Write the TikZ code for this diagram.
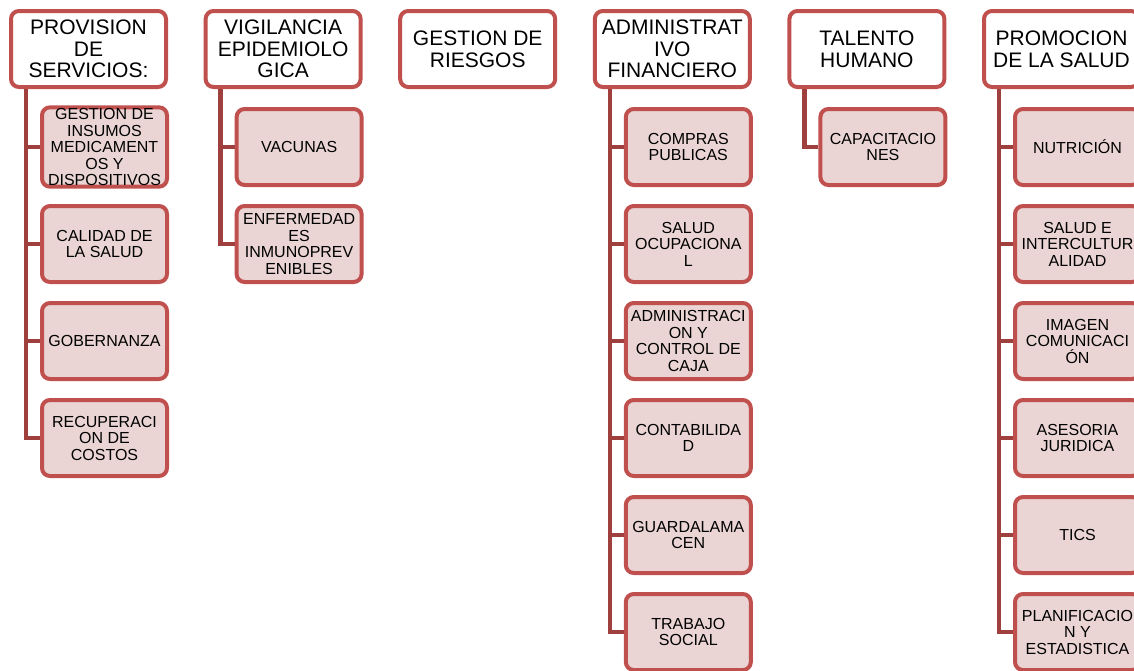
\documentclass[tikz,border=0pt]{standalone}
\usepackage{fontspec}
\setmainfont{Liberation Sans}
\definecolor{rahmen}{RGB}{192,80,77}
\definecolor{fuellung}{RGB}{234,213,212}
\definecolor{linie}{RGB}{160,64,62}
\tikzset{
	bereich/.style={draw=rahmen, line width=4pt, rounded corners=8pt, fill=white,
		minimum width=155pt, minimum height=76pt, inner sep=1pt, align=center,
		font=\fontsize{21}{21.7}\selectfont},
	einheit/.style={bereich, fill=fuellung, minimum width=125pt,
		font=\fontsize{16}{16.5}\selectfont},
	ast/.style={draw=linie, line width=4.5pt}
}
\begin{document}
\begin{tikzpicture}[x=1pt, y=-1pt]
	\path[use as bounding box, clip] (0,0) rectangle (1134,670);
	% Bereiche
	\node[bereich] (prov) at (88.5,49) {PROVISION\\DE\\SERVICIOS:};
	\node[bereich] (vig) at (283.1,49) {VIGILANCIA\\EPIDEMIOLO\\GICA};
	\node[bereich] (ries) at (477.7,49) {GESTION DE\\RIESGOS};
	\node[bereich] (adm) at (672.3,49) {ADMINISTRAT\\IVO\\FINANCIERO};
	\node[bereich] (tal) at (866.9,49) {TALENTO\\HUMANO};
	\node[bereich] (prom) at (1061.5,49) {PROMOCION\\DE LA SALUD};
	% Provision de servicios
	\node[einheit] (prov1) at (104.5,147) {GESTION DE\\INSUMOS\\MEDICAMENT\\OS Y\\DISPOSITIVOS};
	\node[einheit] (prov2) at (104.5,244) {CALIDAD DE\\LA SALUD};
	\node[einheit] (prov3) at (104.5,341) {GOBERNANZA};
	\node[einheit] (prov4) at (104.5,438) {RECUPERACI\\ON DE\\COSTOS};
	% Vigilancia
	\node[einheit] (vig1) at (299.1,147) {VACUNAS};
	\node[einheit] (vig2) at (299.1,244) {ENFERMEDAD\\ES\\INMUNOPREV\\ENIBLES};
	% Administrativo financiero
	\node[einheit] (adm1) at (688.3,147) {COMPRAS\\PUBLICAS};
	\node[einheit] (adm2) at (688.3,244) {SALUD\\OCUPACIONA\\L};
	\node[einheit] (adm3) at (688.3,341) {ADMINISTRACI\\ON Y\\CONTROL DE\\CAJA};
	\node[einheit] (adm4) at (688.3,438) {CONTABILIDA\\D};
	\node[einheit] (adm5) at (688.3,535) {GUARDALAMA\\CEN};
	\node[einheit] (adm6) at (688.3,632) {TRABAJO\\SOCIAL};
	% Talento humano
	\node[einheit] (tal1) at (882.9,147) {CAPACITACIO\\NES};
	% Promocion de la salud
	\node[einheit] (prom1) at (1077.5,147) {NUTRICIÓN};
	\node[einheit] (prom2) at (1077.5,244) {SALUD E\\INTERCULTUR\\ALIDAD};
	\node[einheit] (prom3) at (1077.5,341) {IMAGEN\\COMUNICACI\\ÓN};
	\node[einheit] (prom4) at (1077.5,438) {ASESORIA\\JURIDICA};
	\node[einheit] (prom5) at (1077.5,535) {TICS};
	\node[einheit] (prom6) at (1077.5,632) {PLANIFICACIO\\N Y\\ESTADISTICA};
	% Verbindungen
	\draw[ast] ([xshift=17pt]prov.south west) |- (prov1.west);
	\draw[ast] ([xshift=17pt]prov.south west) |- (prov2.west);
	\draw[ast] ([xshift=17pt]prov.south west) |- (prov3.west);
	\draw[ast] ([xshift=17pt]prov.south west) |- (prov4.west);
	\draw[ast] ([xshift=17pt]vig.south west) |- (vig1.west);
	\draw[ast] ([xshift=17pt]vig.south west) |- (vig2.west);
	\draw[ast] ([xshift=17pt]adm.south west) |- (adm1.west);
	\draw[ast] ([xshift=17pt]adm.south west) |- (adm2.west);
	\draw[ast] ([xshift=17pt]adm.south west) |- (adm3.west);
	\draw[ast] ([xshift=17pt]adm.south west) |- (adm4.west);
	\draw[ast] ([xshift=17pt]adm.south west) |- (adm5.west);
	\draw[ast] ([xshift=17pt]adm.south west) |- (adm6.west);
	\draw[ast] ([xshift=17pt]tal.south west) |- (tal1.west);
	\draw[ast] ([xshift=17pt]prom.south west) |- (prom1.west);
	\draw[ast] ([xshift=17pt]prom.south west) |- (prom2.west);
	\draw[ast] ([xshift=17pt]prom.south west) |- (prom3.west);
	\draw[ast] ([xshift=17pt]prom.south west) |- (prom4.west);
	\draw[ast] ([xshift=17pt]prom.south west) |- (prom5.west);
	\draw[ast] ([xshift=17pt]prom.south west) |- (prom6.west);
\end{tikzpicture}
\end{document}
